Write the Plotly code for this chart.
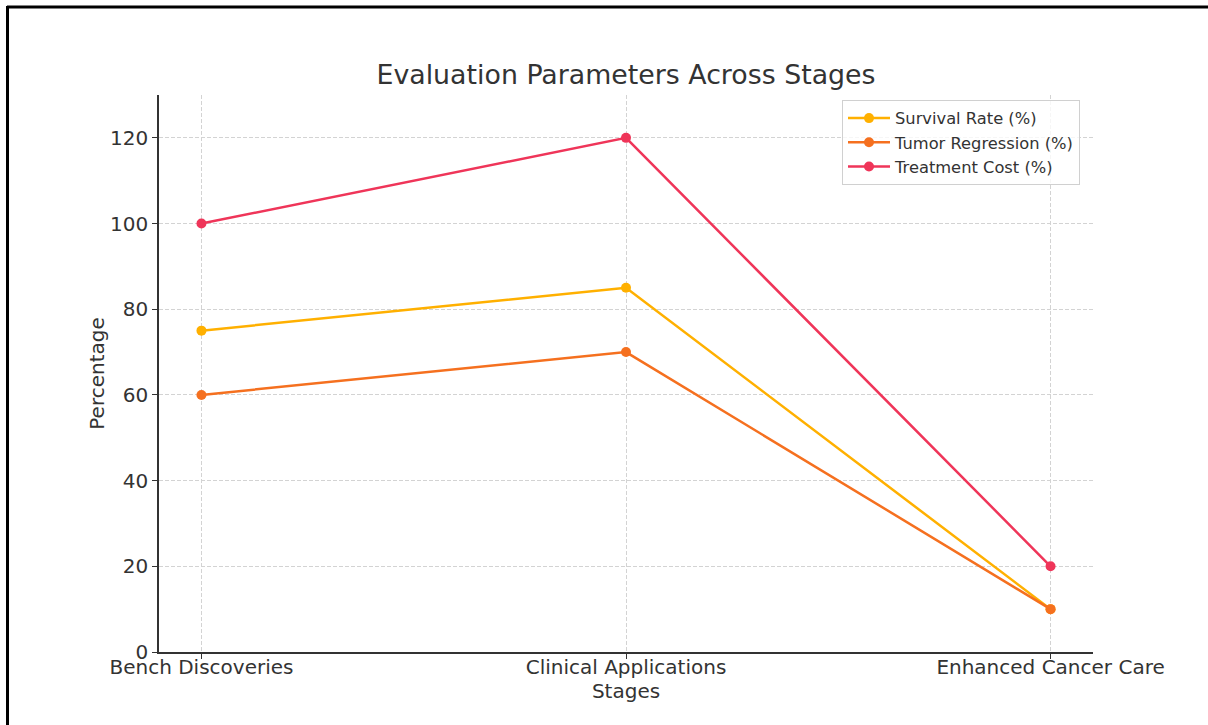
import plotly.graph_objects as go

stages = ["Bench Discoveries", "Clinical Applications", "Enhanced Cancer Care"]
survival_rate = [75, 85, 10]
tumor_regression = [60, 70, 10]
treatment_cost = [100, 120, 20]

series_names = ["Survival Rate (%)", "Tumor Regression (%)", "Treatment Cost (%)"]
series_colors = ["#FFB000", "#F5701F", "#EF3559"]
series_values = [survival_rate, tumor_regression, treatment_cost]

W, H = 1208, 725
L, R, T, B = 159, 115, 95, 73
pw, ph = W - L - R, H - T - B

fig = go.Figure()
for name, color, vals in zip(series_names, series_colors, series_values):
    fig.add_trace(go.Scatter(
        x=list(range(len(stages))), y=vals, name=name, mode="lines+markers",
        line=dict(color=color, width=2.5),
        marker=dict(color=color, size=10),
    ))

def px_x(p):
    return (p - L) / pw

def px_y(p):
    return (H - B - p) / ph

shapes = [
    dict(type="line", xref="paper", yref="paper", x0=px_x(7), x1=px_x(1210),
         y0=px_y(7), y1=px_y(7), line=dict(color="black", width=3)),
    dict(type="line", xref="paper", yref="paper", x0=px_x(7.5), x1=px_x(7.5),
         y0=px_y(6), y1=px_y(727), line=dict(color="black", width=3)),
]

grid_style = dict(showgrid=True, gridcolor="#d3d3d3", griddash="4px,2px", gridwidth=1)

fig.update_layout(
    width=W, height=H,
    margin=dict(l=L, r=R, t=T, b=B),
    paper_bgcolor="white", plot_bgcolor="white",
    font=dict(family="DejaVu Sans", color="#333333"),
    title=dict(text="Evaluation Parameters Across Stages", xref="paper", x=0.5, xanchor="center",
               y=1 - 75 / H, yanchor="middle", font=dict(size=26.8, color="#333333")),
    xaxis=dict(
        tickmode="array", tickvals=list(range(len(stages))), ticktext=stages,
        range=[-0.1, 2.1], showline=True, linecolor="#333333", linewidth=1.5,
        ticks="outside", ticklen=5, tickcolor="#333333", ticklabelstandoff=-9,
        zeroline=False, tickfont=dict(size=20, color="#333333"),
        title=dict(text="Stages", font=dict(size=20, color="#333333"), standoff=6),
        **grid_style,
    ),
    yaxis=dict(
        range=[0, 130], tickvals=[0, 20, 40, 60, 80, 100, 120],
        showline=True, linecolor="#333333", linewidth=1.5,
        ticks="outside", ticklen=5, tickcolor="#333333",
        zeroline=False, tickfont=dict(size=20, color="#333333"),
        title=dict(text="Percentage", font=dict(size=20, color="#333333"), standoff=0),
        **grid_style,
    ),
    legend=dict(
        x=px_x(842), y=px_y(100), xanchor="left", yanchor="top",
        bgcolor="rgba(255,255,255,0.8)", bordercolor="#d0d0d0", borderwidth=1,
        font=dict(size=16.3, color="#333333"), tracegroupgap=0, itemwidth=42,
    ),
    shapes=shapes,
    showlegend=True,
)

fig.write_html("out.html", config={"displayModeBar": False},
               post_script="document.body.style.margin='0';document.body.style.overflow='hidden';")
